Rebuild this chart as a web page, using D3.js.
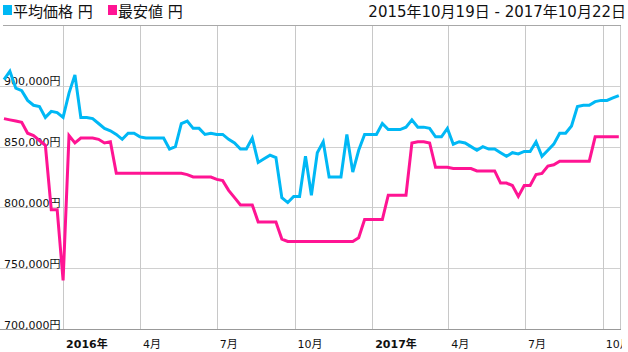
<!DOCTYPE html>
<html><head><meta charset="utf-8">
<script src="https://cdn.jsdelivr.net/npm/d3@7"></script>
<style>
html,body{margin:0;padding:0;background:#fff;}
svg{display:block;font-family:"DejaVu Sans","Noto Sans CJK JP",sans-serif;}
</style></head>
<body><svg id="c" width="628" height="352"></svg>
<script>
// ---- data ----
const seriesNames = ["平均価格 円", "最安値 円"];
const rangeLabel = "2015年10月19日 - 2017年10月22日";
const startDate = "2015-10-23"; // first weekly sample
const avgPrice = [
 905000,912000,898000,896000,888000,884000,883000,874000,879000,878000,
 874000,894000,909000,874000,874000,873000,869000,865000,863000,860000,
 856000,861000,861000,858000,857000,857000,857000,857000,848000,850000,
 869000,871000,865000,865000,860000,861000,860000,860000,856000,853000,
 848000,848000,857000,837000,840000,843000,841000,808000,804000,809000,
 809000,842000,810000,845000,854000,825000,825000,825000,860000,829000,
 847000,860000,860000,860000,869000,864000,864000,864000,866000,872000,
 866000,866000,865000,858000,858000,865000,852000,854000,853000,850000,
 847000,850000,848000,848000,845000,842000,845000,844000,846000,846000,
 854000,842000,847000,852000,861000,861000,867000,883000,884000,884000,
 887000,888000,888000,890000,892000];
const minPrice = [
 873000,872000,871000,870000,861000,859000,855000,851000,798000,798000,
 740000,859000,853000,857000,857000,857000,856000,853000,854000,828000,
 828000,828000,828000,828000,828000,828000,828000,828000,828000,828000,
 828000,827000,825000,825000,825000,825000,823000,822000,814000,808000,
 802000,802000,802000,788000,788000,788000,788000,774000,772000,772000,
 772000,772000,772000,772000,772000,772000,772000,772000,772000,772000,
 775000,790000,790000,790000,790000,810000,810000,810000,810000,853000,
 854000,854000,853000,833000,833000,833000,832000,832000,832000,832000,
 830000,830000,830000,830000,820000,820000,818000,809000,818000,818000,
 827000,828000,834000,835000,838000,838000,838000,838000,838000,838000,
 858000,858000,858000,858000,858000];
const yTicks = [700000,750000,800000,850000,900000];
const xTickDates = ["2016-01-01","2016-04-01","2016-07-01","2016-10-01","2017-01-01","2017-04-01","2017-07-01","2017-10-01"];
const xTickLabels = ["2016年","4月","7月","10月","2017年","4月","7月","10月"];
const colors = ["#00b8f5","#ff1493"];

// ---- chart ----
const parse = d3.timeParse("%Y-%m-%d");
const t0 = parse(startDate);
const dates = avgPrice.map((_, i) => d3.timeDay.offset(t0, i * 7));

const svg = d3.select("#c");
const x = d3.scaleTime().domain([parse("2015-10-19"), parse("2017-10-22")]).range([0.6, 620.5]);
const y = d3.scaleLinear().domain([700000, 950000]).range([329, 25]);

svg.append("defs").append("clipPath").attr("id","clip")
  .append("rect").attr("x",0).attr("y",0).attr("width",622).attr("height",352);

const g = svg.append("g");
// horizontal grid
g.selectAll("line.h").data(yTicks.slice(1)).join("line")
  .attr("x1",0).attr("x2",620.5).attr("y1",d=>Math.round(y(d))+0.5).attr("y2",d=>Math.round(y(d))+0.5)
  .attr("stroke","#d0d0d0").attr("stroke-width",1);
// vertical grid
g.selectAll("line.v").data(xTickDates).join("line")
  .attr("x1",d=>Math.round(x(parse(d)))+0.5).attr("x2",d=>Math.round(x(parse(d)))+0.5)
  .attr("y1",25).attr("y2",329).attr("stroke","#c8c8c8");
// right border
g.append("line").attr("x1",620.5).attr("x2",620.5).attr("y1",25).attr("y2",329).attr("stroke","#c8c8c8");
// top line
g.append("line").attr("x1",3).attr("x2",621).attr("y1",25.5).attr("y2",25.5).attr("stroke","#a8a8a8");
// bottom axis
g.append("line").attr("x1",0).attr("x2",621).attr("y1",Math.round(y(700000))+0.5).attr("y2",Math.round(y(700000))+0.5).attr("stroke","#999");

// y labels
g.selectAll("text.yl").data(yTicks).join("text")
  .attr("x",4).attr("y",d=>y(d)-0.5)
  .attr("font-size",11).attr("fill","#111")
  .text(d=>d3.format(",")(d)+"円");

// lines
const line = d3.line().x((d,i)=>x(dates[i])).y(d=>y(d));
[avgPrice, minPrice].forEach((s, k) => {
  g.append("path").datum(s).attr("d", line)
    .attr("fill","none").attr("stroke",colors[k]).attr("stroke-width",3)
    .attr("stroke-linejoin","miter");
});

// x labels
const xl = svg.append("g").attr("clip-path","url(#clip)");
xl.selectAll("text").data(xTickDates).join("text")
  .attr("x",d=>x(parse(d))+3).attr("y",348)
  .attr("font-size",11).attr("fill","#111")
  .attr("font-weight",(d,i)=>xTickLabels[i].includes("年")?"bold":"normal")
  .text((d,i)=>xTickLabels[i]);

// legend
const lg = svg.append("g");
let lx = 3;
seriesNames.forEach((n,k)=>{
  lg.append("rect").attr("x",lx).attr("y",5).attr("width",9).attr("height",10).attr("fill",colors[k]);
  lg.append("text").attr("x",lx+10).attr("y",17).attr("font-size",15).attr("fill","#111").text(n);
  lx += 105;
});
svg.append("text").attr("x",626).attr("y",17).attr("text-anchor","end")
  .attr("font-size",15).attr("fill","#111").text(rangeLabel);
</script></body></html>
